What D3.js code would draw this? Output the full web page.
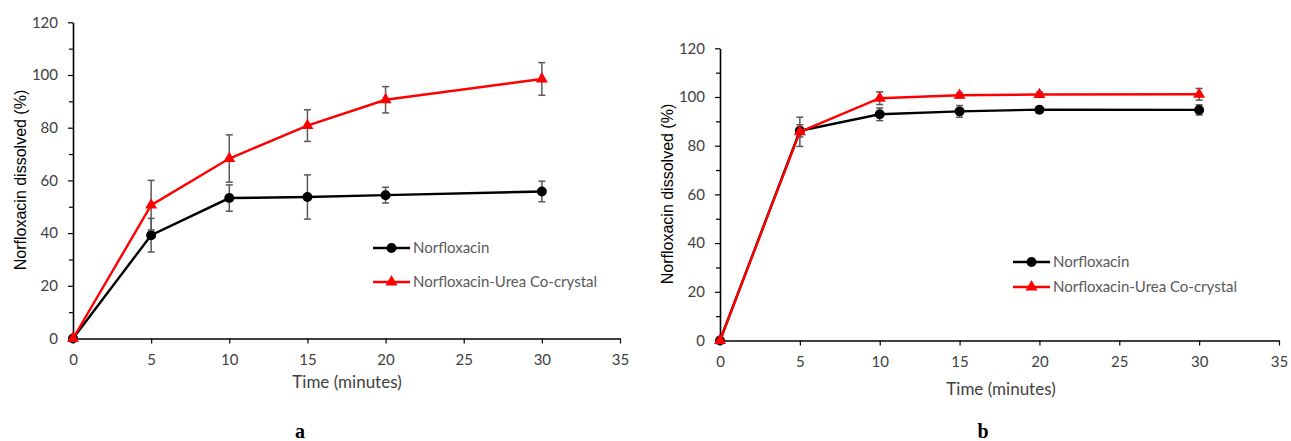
<!DOCTYPE html>
<html lang="en">
<head>
<meta charset="utf-8">
<title>Norfloxacin dissolution</title>
<script src="https://d3js.org/d3.v7.min.js"></script>
<style>
  body { margin: 0; background: #fff; }
  svg { display: block; }
</style>
</head>
<body>
<div id="chart"></div>
<script>
// values
const timePoints = [0, 5, 10, 15, 20, 30];
const xTicks = [0, 5, 10, 15, 20, 25, 30, 35];
const yTicks = [0, 20, 40, 60, 80, 100, 120];
const seriesNames = ["Norfloxacin", "Norfloxacin-Urea Co-crystal"];
const panelLabels = ["a", "b"];

const panelANorflox = [0, 39.2, 53.3, 53.7, 54.4, 55.8];
const panelANorfloxErr = [0, 6.4, 5.0, 8.4, 3.0, 3.9];
const panelACocrystal = [0, 50.6, 68.3, 80.8, 90.6, 98.5];
const panelACocrystalErr = [0, 9.4, 9.0, 6.0, 5.0, 6.2];

const panelBNorflox = [0, 86.1, 92.9, 94.1, 94.8, 94.7];
const panelBNorfloxErr = [0, 2.5, 2.6, 2.4, 1.2, 2.1];
const panelBCocrystal = [0, 85.7, 99.5, 100.7, 101.0, 101.1];
const panelBCocrystalErr = [0, 6.0, 2.6, 1.0, 1.0, 2.4];

const width = 1291, height = 441;
const svg = d3.select("#chart").append("svg")
  .attr("width", width)
  .attr("height", height);

const tickFont = "Lato, 'Open Sans', sans-serif";
const titleFont = "'Liberation Sans', Arial, sans-serif";

function drawPanel(opts) {
  const x = d3.scaleLinear().domain([0, 35]).range([opts.left, opts.right]);
  const y = d3.scaleLinear().domain([0, 120]).range([opts.bottom, opts.top]);
  const g = svg.append("g");

  // minor y ticks
  g.append("g")
    .attr("transform", `translate(${opts.left},0)`)
    .call(d3.axisLeft(y).tickValues(d3.range(10, 120, 20)).tickSize(4).tickFormat(""))
    .call(a => a.select(".domain").remove())
    .selectAll("line").attr("stroke", "#000").attr("stroke-width", 1.2);

  const yAxis = g.append("g")
    .attr("transform", `translate(${opts.left},0)`)
    .call(d3.axisLeft(y).tickValues(yTicks).tickSize(5).tickSizeOuter(0).tickPadding(10));
  const xAxis = g.append("g")
    .attr("transform", `translate(0,${opts.bottom})`)
    .call(d3.axisBottom(x).tickValues(xTicks).tickSize(5).tickSizeOuter(0).tickPadding(11));

  [yAxis, xAxis].forEach(ax => {
    ax.select(".domain").attr("stroke", "#000").attr("stroke-width", 1.6);
    ax.selectAll(".tick line").attr("stroke", "#000").attr("stroke-width", 1.2);
    ax.selectAll(".tick text")
      .attr("fill", "#404040")
      .style("font-family", tickFont)
      .style("font-size", "15px");
  });

  const series = [
    { name: seriesNames[0], values: opts.norflox, err: opts.norfloxErr, color: "#000", symbol: d3.symbolCircle, size: 78 },
    { name: seriesNames[1], values: opts.cocrystal, err: opts.cocrystalErr, color: "#ff0000", symbol: d3.symbolTriangle, size: 62 }
  ];

  const line = d3.line().x(d => x(d[0])).y(d => y(d[1]));

  series.forEach(s => {
    const pts = timePoints.map((t, i) => [t, s.values[i], s.err[i]]);
    const sg = g.append("g");

    // error bars
    const eb = sg.selectAll(".err").data(pts.filter(d => d[2] > 0)).join("g")
      .attr("stroke", "#595959").attr("stroke-width", 1.5);
    eb.append("line")
      .attr("x1", d => x(d[0])).attr("x2", d => x(d[0]))
      .attr("y1", d => y(d[1] - d[2])).attr("y2", d => y(d[1] + d[2]));
    eb.append("line")
      .attr("x1", d => x(d[0]) - 3.5).attr("x2", d => x(d[0]) + 3.5)
      .attr("y1", d => y(d[1] + d[2])).attr("y2", d => y(d[1] + d[2]));
    eb.append("line")
      .attr("x1", d => x(d[0]) - 3.5).attr("x2", d => x(d[0]) + 3.5)
      .attr("y1", d => y(d[1] - d[2])).attr("y2", d => y(d[1] - d[2]));

    sg.append("path")
      .datum(pts)
      .attr("fill", "none")
      .attr("stroke", s.color)
      .attr("stroke-width", 2.4)
      .attr("d", line);

    sg.selectAll(".mk").data(pts).join("path")
      .attr("transform", d => `translate(${x(d[0])},${y(d[1])})`)
      .attr("d", d3.symbol(s.symbol, s.size))
      .attr("fill", s.color);
  });

  // legend
  series.forEach((s, i) => {
    const ly = opts.legendY[i];
    const lg = g.append("g");
    lg.append("line")
      .attr("x1", opts.legendX).attr("x2", opts.legendX + 37)
      .attr("y1", ly).attr("y2", ly)
      .attr("stroke", s.color).attr("stroke-width", 2.4);
    lg.append("path")
      .attr("transform", `translate(${opts.legendX + 18.5},${ly})`)
      .attr("d", d3.symbol(s.symbol, s.size))
      .attr("fill", s.color);
    lg.append("text")
      .attr("x", opts.legendX + 40).attr("y", ly)
      .attr("dy", "0.35em")
      .attr("fill", "#595959")
      .style("font-family", tickFont)
      .style("font-size", "15px")
      .text(s.name);
  });

  // axis titles
  g.append("text")
    .attr("transform", `translate(${opts.yTitle[0]},${opts.yTitle[1]}) rotate(-90)`)
    .attr("text-anchor", "middle")
    .attr("dy", "0.35em")
    .attr("fill", "#000")
    .style("font-family", titleFont)
    .style("font-size", "16px")
    .text("Norfloxacin dissolved (%)");

  g.append("text")
    .attr("x", opts.xTitle[0]).attr("y", opts.xTitle[1])
    .attr("text-anchor", "middle")
    .attr("dy", "0.35em")
    .attr("fill", "#404040")
    .style("font-family", tickFont)
    .style("font-size", "17px")
    .text("Time (minutes)");

  g.append("text")
    .attr("x", opts.label[0]).attr("y", opts.label[1])
    .attr("text-anchor", "middle")
    .attr("dy", "0.35em")
    .attr("fill", "#000")
    .style("font-family", "'Liberation Serif', 'Times New Roman', serif")
    .style("font-weight", "bold")
    .style("font-size", "20px")
    .text(opts.labelText);
}

drawPanel({
  left: 73, right: 620, top: 22.3, bottom: 338.5,
  norflox: panelANorflox, norfloxErr: panelANorfloxErr,
  cocrystal: panelACocrystal, cocrystalErr: panelACocrystalErr,
  legendX: 373, legendY: [248, 282],
  yTitle: [20, 180], xTitle: [347, 382], label: [300, 431], labelText: panelLabels[0]
});

drawPanel({
  left: 720, right: 1279, top: 48.3, bottom: 340.5,
  norflox: panelBNorflox, norfloxErr: panelBNorfloxErr,
  cocrystal: panelBCocrystal, cocrystalErr: panelBCocrystalErr,
  legendX: 1013, legendY: [262, 287],
  yTitle: [667, 194], xTitle: [1001, 389], label: [983, 431], labelText: panelLabels[1]
});
</script>
</body>
</html>
